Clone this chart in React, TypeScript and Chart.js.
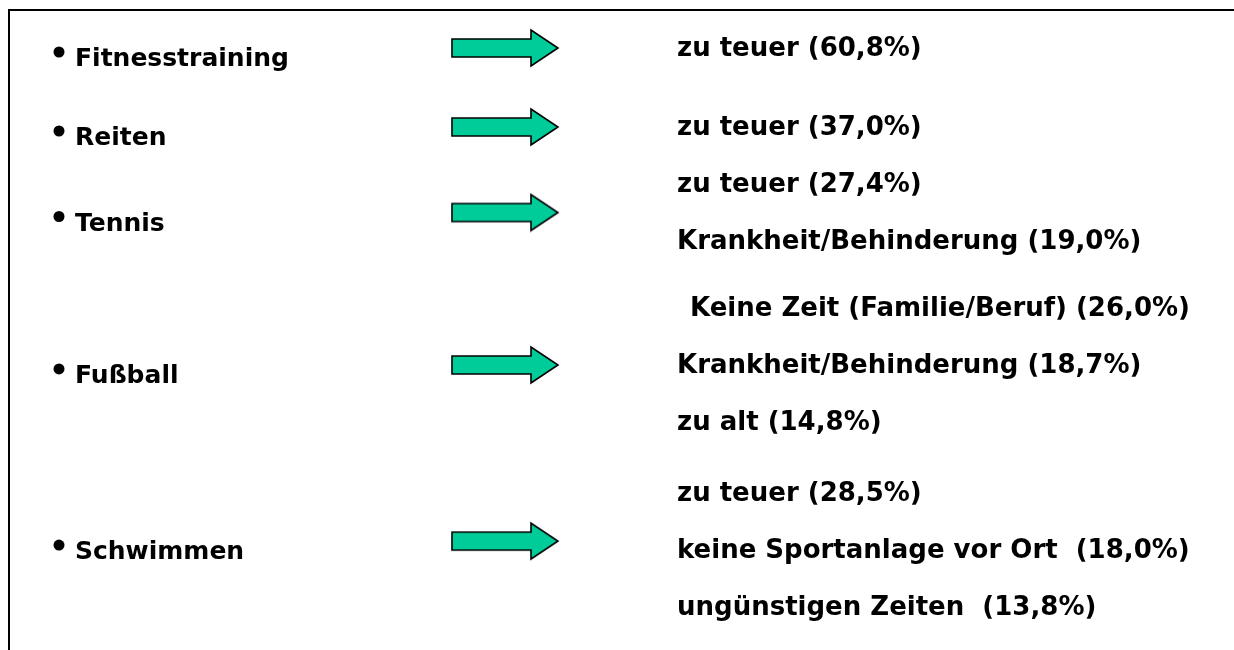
import React, { useEffect, useRef } from 'react';
import { Chart, registerables } from 'chart.js';

Chart.register(...registerables);

// ---- data ----
const sports = ['Fitnesstraining', 'Reiten', 'Tennis', 'Fußball', 'Schwimmen'];
const reasonLabels = [
  ['zu teuer'],
  ['zu teuer'],
  ['zu teuer', 'Krankheit/Behinderung'],
  ['Keine Zeit (Familie/Beruf)', 'Krankheit/Behinderung', 'zu alt'],
  ['zu teuer', 'keine Sportanlage vor Ort ', 'ungünstigen Zeiten '],
];
const reasonShares = [[60.8], [37.0], [27.4, 19.0], [26.0, 18.7, 14.8], [28.5, 18.0, 13.8]];

// ---- layout (not data) ----
const W = 1226;
const H = 642;
const LINE_PX = 57;
const FIRST_LINE_PX = 40;
const GROUP_GAP = [0, 0.386, 0, 0.175, 0.25];
const ARROW_SHIFT = [0, 0, 0, 0, -0.16];
const COL = { bullet: 51, label: 67, arrow: 497, reason: 669 };
const FONT_LEFT = 'bold 25px "DejaVu Sans"';
const FONT_RIGHT = 'bold 26px "DejaVu Sans"';
const ARROW_FILL = '#00CC99';

const fmt = (v: number) => v.toFixed(1).replace('.', ',') + '%';

function buildRows() {
  const lines: { text: string; slot: number; group: number; idx: number }[] = [];
  const centers: number[] = [];
  let cursor = 0;
  reasonLabels.forEach((g, gi) => {
    if (gi > 0) cursor += GROUP_GAP[gi];
    const start = cursor;
    g.forEach((lab, li) => {
      lines.push({ text: `${lab} (${fmt(reasonShares[gi][li])})`, slot: cursor, group: gi, idx: li });
      cursor += 1;
    });
    centers.push((start + cursor - 1) / 2 + ARROW_SHIFT[gi]);
  });
  return { lines, centers };
}

function makeArrow() {
  const c = document.createElement('canvas');
  c.width = 110;
  c.height = 40;
  const ctx = c.getContext('2d')!;
  ctx.beginPath();
  ctx.moveTo(2, 11);
  ctx.lineTo(81, 11);
  ctx.lineTo(81, 2);
  ctx.lineTo(108, 20);
  ctx.lineTo(81, 38);
  ctx.lineTo(81, 29);
  ctx.lineTo(2, 29);
  ctx.closePath();
  ctx.fillStyle = ARROW_FILL;
  ctx.fill();
  ctx.lineWidth = 1.6;
  ctx.strokeStyle = '#000';
  ctx.lineJoin = 'miter';
  ctx.stroke();
  return c;
}

export default function App() {
  const ref = useRef<HTMLCanvasElement>(null);
  useEffect(() => {
    const { lines, centers } = buildRows();
    const arrow = makeArrow();
    const yMin = -FIRST_LINE_PX / LINE_PX;
    const textPlugin = {
      id: 'slideText',
      afterDatasetsDraw(chart: any) {
        const ctx = chart.ctx;
        const xs = chart.scales.x;
        ctx.save();
        // frame (top + left)
        ctx.strokeStyle = '#000';
        ctx.lineWidth = 2;
        ctx.beginPath();
        ctx.moveTo(1, H);
        ctx.lineTo(1, 2);
        ctx.lineTo(W, 2);
        ctx.stroke();
        ctx.fillStyle = '#000';
        ctx.textBaseline = 'alphabetic';
        ctx.textAlign = 'left';
        ctx.font = FONT_LEFT;
        const meta = chart.getDatasetMeta(0);
        meta.data.forEach((pt: any, i: number) => {
          const y = pt.y;
          ctx.beginPath();
          ctx.arc(xs.getPixelForValue(COL.bullet), y + 4, 5.5, 0, Math.PI * 2);
          ctx.fill();
          ctx.fillText(sports[i], xs.getPixelForValue(COL.label), y + 18);
        });
        ctx.font = FONT_RIGHT;
        const meta2 = chart.getDatasetMeta(1);
        meta2.data.forEach((pt: any, i: number) => {
          const ln = lines[i];
          const indent = ln.group === 3 && ln.idx === 0 ? 13 : 0;
          ctx.fillText(ln.text, pt.x + indent, pt.y + 8);
        });
        ctx.restore();
      },
    };
    const chart = new Chart(ref.current!, {
      type: 'scatter',
      data: {
        datasets: [
          {
            label: 'Sportart',
            data: centers.map((c) => ({ x: COL.arrow, y: c })),
            pointStyle: arrow as any,
            pointRadius: 10,
          },
          {
            label: 'Gründe',
            data: lines.map((l) => ({ x: COL.reason, y: l.slot })),
            pointRadius: 0,
          },
        ],
      },
      options: {
        animation: false,
        responsive: false,
        events: [],
        layout: { padding: 0, autoPadding: false },
        plugins: { legend: { display: false }, tooltip: { enabled: false } },
        scales: {
          x: { type: 'linear', min: 0, max: W, display: false },
          y: { type: 'linear', min: yMin, max: yMin + H / LINE_PX, reverse: true, display: false },
        },
      },
      plugins: [textPlugin],
    });
    return () => chart.destroy();
  }, []);
  return (
    <div style={{ position: 'absolute', left: 8, top: 8, width: W, height: H, overflow: 'hidden' }}>
      <canvas ref={ref} width={W} height={H} style={{ display: 'block' }} />
    </div>
  );
}
